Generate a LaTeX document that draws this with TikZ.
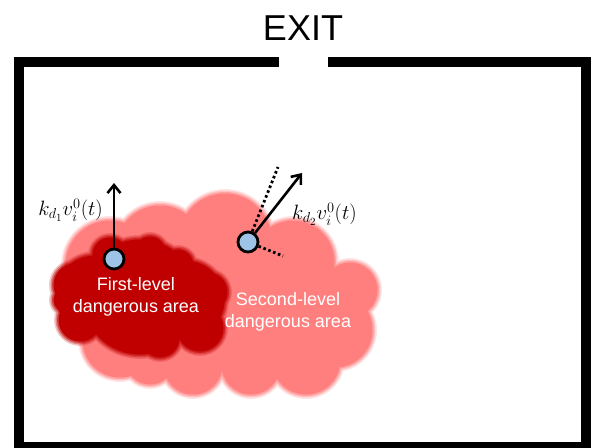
\documentclass[tikz,border=0pt]{standalone}
\usepackage[no-math]{fontspec}
\setmainfont{Liberation Sans}
\usepackage{amsmath}
\usetikzlibrary{arrows.meta}

\definecolor{rojoClaro}{HTML}{FF7F7F}
\definecolor{rojoOscuro}{HTML}{C00000}
\definecolor{azulAgente}{HTML}{9DC3E6}

\begin{document}
\begin{tikzpicture}[
    x=1pt, y=-1pt,
    % --- PAREDES: Grosor de 10pt con esquinas en inglete ---
    pared/.style={line width=10pt, black, line cap=butt, line join=miter},
    % --- PEATONES Y VELOCIDADES ---
    agente/.style={circle, draw=black, fill=azulAgente, line width=2.8pt, minimum size=20pt, inner sep=0pt},
    flechaVel/.style={-{Straight Barb[length=8pt, width=13pt]}, line width=2.6pt, black},
    lineaPunteada/.style={line width=2.8pt, dash pattern=on 2.6pt off 2.6pt, black},
    % --- TEXTOS ---
    etiqueta/.style={font=\fontsize{21}{24}\selectfont, inner sep=0pt},
    textoZona/.style={white, align=center, font=\fontsize{18}{22}\selectfont}
]
    \useasboundingbox (0,0) rectangle (591,447);

    % --- ZONA PELIGROSA DE SEGUNDO NIVEL (borde difuso) ---
    \foreach \d/\o in {4/0.2, 2.5/0.35, 1/0.5, -0.5/1}{
        \begin{scope}[transparency group, opacity=\o]
            \foreach \cx/\cy/\r in {225/240/47, 160/250/45, 110/265/45, 293/262/42,
                                    350/290/28, 335/330/38, 193/365/30, 251/365/30,
                                    306/360/35, 240/300/70, 170/310/55, 120/310/45,
                                    120/340/38, 150/360/25, 300/310/50}
                \fill[rojoClaro] (\cx,\cy) circle[radius=\r+(\d)];
        \end{scope}
    }

    % --- ZONA PELIGROSA DE PRIMER NIVEL (borde difuso) ---
    \foreach \d/\o in {4/0.2, 2.5/0.35, 1/0.5, -0.5/1}{
        \begin{scope}[transparency group, opacity=\o]
            \foreach \cx/\cy/\r in {140/297/58, 95/295/40, 185/300/40, 75/285/22,
                                    80/320/22, 110/255/18, 200/328/24, 208/292/20,
                                    160/338/20, 150/252/16, 178/265/16, 66/300/13}
                \fill[rojoOscuro] (\cx,\cy) circle[radius=\r+(\d)];
        \end{scope}
    }

    % --- RECINTO CON SALIDA ---
    \draw[pared] (279,61.5) -- (18.7,61.5) -- (18.7,446.5) -- (586,446.5) -- (586,61.5) -- (327.5,61.5);
    \node[font=\fontsize{36}{40}\selectfont] (salida) at (303,28) {EXIT};

    % --- TEXTOS DE LAS ZONAS ---
    \node[textoZona] (zona1) at (136,297) {First-level\\dangerous area};
    \node[textoZona] (zona2) at (288,312) {Second-level\\dangerous area};

    % --- PEATONES ---
    \node[agente] (p1) at (114,259) {};
    \node[agente] (p2) at (248,242) {};

    \coordinate (v1) at (114,183);
    \coordinate (v2) at (302,173);
    \coordinate (tang) at (278,167);
    \coordinate (norm) at (283,256);

    % --- COMPONENTES Y VELOCIDADES ---
    \draw[lineaPunteada] (p2) -- (tang);
    \draw[lineaPunteada] (p2) -- (norm);
    \draw[flechaVel] (p1) -- (v1);
    \draw[flechaVel] (p2) -- (v2);

    \node[etiqueta, anchor=east] (k1) at (103,210) {$k_{d_1}v_i^0(t)$};
    \node[etiqueta, anchor=west] (k2) at (292,214) {$k_{d_2}v_i^0(t)$};

\end{tikzpicture}
\end{document}
